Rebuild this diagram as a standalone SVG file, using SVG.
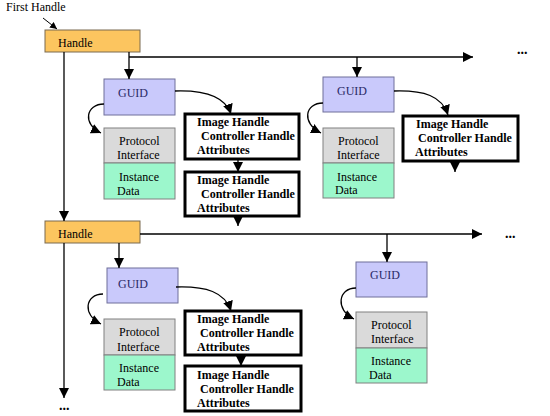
<svg xmlns="http://www.w3.org/2000/svg" width="550" height="416" viewBox="0 0 550 416" font-family="'Liberation Serif','Times New Roman',serif">
<style>
text{font-family:"Liberation Serif","Times New Roman",serif;font-size:12px;fill:#000}
.handle{fill:#FCC55F;stroke:#7a6a50;stroke-width:1}
.guid{fill:#C9C9FB;stroke:#6f6f9a;stroke-width:1}
.guid-t{fill:#2a2a66}
.proto{fill:#DADADA;stroke:#808080;stroke-width:1}
.inst{fill:#9CF7CC;stroke:#808080;stroke-width:1}
.img{fill:#fff;stroke:#000;stroke-width:3}
.b{font-weight:bold}
.dots{font-weight:bold;font-size:14px}
.c{fill:none;stroke:#000;stroke-width:1.3}
</style>
<defs>
<marker id="ah" markerWidth="10" markerHeight="10" refX="10" refY="5" orient="auto" markerUnits="userSpaceOnUse"><path d="M0,0 L10,5 L0,10 z" fill="#000"/></marker>
<marker id="as" markerWidth="7" markerHeight="7" refX="7" refY="3.5" orient="auto" markerUnits="userSpaceOnUse"><path d="M0,0 L7,3.5 L0,7 z" fill="#000"/></marker>
</defs>

<g id="first-handle-label"><text x="6" y="11">First Handle</text></g>

<g id="handle1"><rect class="handle" x="45" y="30" width="95" height="22"/><text x="58" y="47">Handle</text></g>
<g id="handle2"><rect class="handle" x="45" y="221" width="95" height="22"/><text x="58" y="238">Handle</text></g>

<g id="guid1"><rect class="guid" x="104" y="79" width="71" height="36"/><text class="guid-t" x="118" y="97">GUID</text></g>
<g id="proto1"><rect class="proto" x="104" y="128" width="71" height="35"/><text x="119" y="145">Protocol</text><text x="117" y="159">Interface</text></g>
<g id="inst1"><rect class="inst" x="104" y="163" width="71" height="36"/><text x="119" y="181">Instance</text><text x="117" y="195">Data</text></g>

<g id="guid2"><rect class="guid" x="323" y="77" width="71" height="35"/><text class="guid-t" x="337" y="95">GUID</text></g>
<g id="proto2"><rect class="proto" x="323" y="128" width="71" height="35"/><text x="338" y="145">Protocol</text><text x="337" y="159">Interface</text></g>
<g id="inst2"><rect class="inst" x="323" y="163" width="71" height="35"/><text x="337" y="181">Instance</text><text x="335" y="194">Data</text></g>

<g id="guid3"><rect class="guid" x="107" y="268" width="71" height="35"/><text class="guid-t" x="118" y="288">GUID</text></g>
<g id="proto3"><rect class="proto" x="104" y="319" width="71" height="36"/><text x="119" y="336">Protocol</text><text x="117" y="351">Interface</text></g>
<g id="inst3"><rect class="inst" x="104" y="355" width="71" height="35"/><text x="119" y="372">Instance</text><text x="117" y="386">Data</text></g>

<g id="guid4"><rect class="guid" x="356" y="262" width="71" height="35"/><text class="guid-t" x="370" y="279">GUID</text></g>
<g id="proto4"><rect class="proto" x="356" y="312" width="71" height="36"/><text x="371" y="329">Protocol</text><text x="371" y="343">Interface</text></g>
<g id="inst4"><rect class="inst" x="356" y="348" width="71" height="35"/><text x="371" y="365">Instance</text><text x="369" y="379">Data</text></g>

<g id="img1a"><rect class="img" x="185" y="114" width="114" height="45"/><text class="b" x="197" y="126">Image Handle</text><text class="b" x="201" y="140">Controller Handle</text><text class="b" x="197" y="154">Attributes</text></g>
<g id="img1b"><rect class="img" x="185" y="172" width="114" height="44"/><text class="b" x="197" y="184">Image Handle</text><text class="b" x="201" y="198">Controller Handle</text><text class="b" x="197" y="212">Attributes</text></g>
<g id="img2a"><rect class="img" x="403" y="116" width="115" height="45"/><text class="b" x="416" y="128">Image Handle</text><text class="b" x="418" y="142">Controller Handle</text><text class="b" x="415" y="156">Attributes</text></g>
<g id="img3a"><rect class="img" x="185" y="311" width="116" height="44"/><text class="b" x="197" y="323">Image Handle</text><text class="b" x="200" y="337">Controller Handle</text><text class="b" x="197" y="351">Attributes</text></g>
<g id="img3b"><rect class="img" x="185" y="366" width="116" height="45"/><text class="b" x="197" y="379">Image Handle</text><text class="b" x="200" y="393">Controller Handle</text><text class="b" x="197" y="407">Attributes</text></g>

<g id="dots">
<text class="dots" x="517" y="54">...</text>
<text class="dots" x="505" y="238">...</text>
<text class="dots" x="59" y="410">...</text>
</g>

<g id="connectors">
<path class="c" d="M43,18 L57,29" marker-end="url(#as)" style="stroke-width:1"/>
<path class="c" d="M64,52 L64,221" marker-end="url(#ah)"/>
<path class="c" d="M64,243 L64,398" marker-end="url(#ah)"/>
<path class="c" d="M129,52 L129,79" marker-end="url(#ah)"/>
<path class="c" d="M129,57 L473,57" marker-end="url(#ah)"/>
<path class="c" d="M357,57 L357,77" marker-end="url(#ah)"/>
<path class="c" d="M140,234 L482,234" marker-end="url(#ah)"/>
<path class="c" d="M119,243 L119,268" marker-end="url(#ah)"/>
<path class="c" d="M387,234 L387,262" marker-end="url(#ah)"/>
<path class="c" d="M104,104 C86,104 82,124 101,133" marker-end="url(#ah)"/>
<path class="c" d="M175,91 C205,90 225,96 231,114" marker-end="url(#ah)"/>
<path class="c" d="M323,103 C305,103 301,123 321,133" marker-end="url(#ah)"/>
<path class="c" d="M394,91 C424,90 442,96 448,115" marker-end="url(#ah)"/>
<path class="c" d="M103,294 C85,294 82,315 101,324" marker-end="url(#ah)"/>
<path class="c" d="M176,287 C206,286 225,292 231,311" marker-end="url(#ah)"/>
<path class="c" d="M356,288 C338,288 335,310 354,319" marker-end="url(#ah)"/>
<path class="c" d="M238,159 L238,172" marker-end="url(#ah)"/>
<path class="c" d="M238,216 L238,226" marker-end="url(#ah)"/>
<path class="c" d="M455,161 L455,172" marker-end="url(#ah)"/>
<path class="c" d="M241,355 L241,366" marker-end="url(#ah)"/>
</g>
</svg>
